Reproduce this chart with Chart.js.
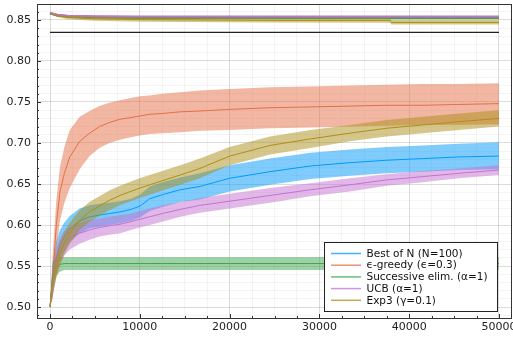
<!DOCTYPE html>
<html>
<head>
<meta charset="utf-8">
<script src="https://cdn.jsdelivr.net/npm/chart.js@4.4.0/dist/chart.umd.min.js"></script>
<style>
  body { margin: 0; background: #fff; }
</style>
</head>
<body>
<canvas id="regret" width="513" height="340"></canvas>
<script>
const steps = [0, 300, 700, 1100, 1600, 2200, 3300, 4400, 5500, 6600, 7800, 9000, 10000,
  11100, 12500, 14500, 16700, 20000, 24500, 29000, 33400, 37500, 41500, 45500, 50000];

const labels = ['Best of N (N=100)', 'ϵ-greedy (ϵ=0.3)', 'Successive elim. (α=1)', 'UCB (α=1)', 'Exp3 (γ=0.1)'];
const colors = ['#009AFA', '#E36F47', '#3EA44E', '#C371D2', '#AC8E18'];

const bestMean  = [0.50, 0.535, 0.560, 0.575, 0.585, 0.595, 0.605, 0.610, 0.612, 0.614, 0.616, 0.619, 0.623,
  0.632, 0.637, 0.643, 0.647, 0.657, 0.665, 0.672, 0.676, 0.679, 0.681, 0.683, 0.684];
const bestUpper = [0.50, 0.555, 0.580, 0.594, 0.603, 0.611, 0.620, 0.624, 0.626, 0.627, 0.629, 0.632, 0.637,
  0.647, 0.652, 0.658, 0.663, 0.673, 0.681, 0.688, 0.692, 0.695, 0.697, 0.699, 0.701];
const bestLower = [0.50, 0.515, 0.540, 0.556, 0.567, 0.579, 0.590, 0.596, 0.598, 0.600, 0.602, 0.605, 0.609,
  0.617, 0.622, 0.628, 0.631, 0.641, 0.649, 0.656, 0.660, 0.663, 0.665, 0.667, 0.668];

const greedyMean  = [0.50, 0.535, 0.600, 0.640, 0.663, 0.683, 0.702, 0.712, 0.720, 0.725, 0.729, 0.731, 0.733,
  0.735, 0.736, 0.738, 0.739, 0.741, 0.743, 0.744, 0.745, 0.746, 0.746, 0.747, 0.748];
const greedyUpper = [0.50, 0.565, 0.630, 0.670, 0.695, 0.716, 0.732, 0.739, 0.745, 0.749, 0.752, 0.755, 0.757,
  0.758, 0.760, 0.762, 0.764, 0.766, 0.768, 0.769, 0.770, 0.771, 0.772, 0.772, 0.773];
const greedyLower = [0.50, 0.510, 0.570, 0.605, 0.627, 0.645, 0.668, 0.684, 0.694, 0.700, 0.704, 0.707, 0.709,
  0.711, 0.712, 0.713, 0.715, 0.716, 0.718, 0.719, 0.720, 0.721, 0.722, 0.722, 0.723];

const elimMean  = [0.50, 0.540, 0.549, 0.552, 0.553, 0.553, 0.553, 0.553, 0.553, 0.553, 0.553, 0.553, 0.553,
  0.553, 0.553, 0.553, 0.553, 0.553, 0.553, 0.553, 0.553, 0.553, 0.553, 0.553, 0.553];
const elimUpper = [0.50, 0.555, 0.560, 0.561, 0.561, 0.561, 0.561, 0.561, 0.561, 0.561, 0.561, 0.561, 0.561,
  0.561, 0.561, 0.561, 0.561, 0.561, 0.561, 0.561, 0.561, 0.561, 0.561, 0.561, 0.561];
const elimLower = [0.50, 0.525, 0.538, 0.543, 0.545, 0.545, 0.545, 0.545, 0.545, 0.545, 0.545, 0.545, 0.545,
  0.545, 0.545, 0.545, 0.545, 0.545, 0.545, 0.545, 0.545, 0.545, 0.545, 0.545, 0.545];

const ucbMean  = [0.50, 0.530, 0.555, 0.568, 0.578, 0.584, 0.590, 0.594, 0.597, 0.599, 0.601, 0.604, 0.607,
  0.610, 0.614, 0.619, 0.624, 0.629, 0.636, 0.643, 0.649, 0.655, 0.659, 0.663, 0.667];
const ucbUpper = [0.50, 0.548, 0.572, 0.584, 0.593, 0.598, 0.603, 0.606, 0.608, 0.610, 0.612, 0.614, 0.617,
  0.620, 0.624, 0.628, 0.633, 0.638, 0.645, 0.651, 0.657, 0.662, 0.666, 0.669, 0.673];
const ucbLower = [0.50, 0.512, 0.538, 0.552, 0.563, 0.570, 0.577, 0.582, 0.586, 0.588, 0.590, 0.594, 0.597,
  0.600, 0.604, 0.610, 0.615, 0.620, 0.627, 0.635, 0.641, 0.648, 0.652, 0.657, 0.661];

const exp3Mean  = [0.50, 0.530, 0.550, 0.565, 0.578, 0.590, 0.606, 0.616, 0.623, 0.630, 0.636, 0.641, 0.645,
  0.649, 0.654, 0.661, 0.669, 0.684, 0.697, 0.705, 0.712, 0.718, 0.722, 0.726, 0.730];
const exp3Upper = [0.50, 0.545, 0.565, 0.580, 0.592, 0.603, 0.618, 0.628, 0.635, 0.642, 0.648, 0.653, 0.657,
  0.661, 0.666, 0.673, 0.681, 0.695, 0.708, 0.716, 0.722, 0.728, 0.732, 0.736, 0.740];
const exp3Lower = [0.50, 0.515, 0.535, 0.550, 0.564, 0.577, 0.594, 0.604, 0.611, 0.618, 0.624, 0.629, 0.633,
  0.637, 0.642, 0.649, 0.657, 0.673, 0.686, 0.694, 0.702, 0.708, 0.712, 0.716, 0.720];

// the short curves near the top of the plot
const topSteps   = [0, 800, 2000, 5000, 10000, 25000, 37900, 38000, 50000];
const topBest    = [0.8585, 0.8560, 0.8545, 0.8540, 0.8535, 0.8535, 0.8535, 0.8535, 0.8535];
const topGreedy  = [0.8580, 0.8560, 0.8545, 0.8535, 0.8530, 0.8530, 0.8530, 0.8530, 0.8530];
const topElim    = [0.8580, 0.8555, 0.8540, 0.8530, 0.8525, 0.8525, 0.8525, 0.8525, 0.8525];
const topUcb     = [0.8585, 0.8565, 0.8552, 0.8547, 0.8542, 0.8542, 0.8542, 0.8542, 0.8542];
const topExp3    = [0.8580, 0.8550, 0.8530, 0.8515, 0.8505, 0.8495, 0.8495, 0.8470, 0.8470];
const topExp3Up  = [0.8580, 0.8565, 0.8550, 0.8540, 0.8530, 0.8522, 0.8520, 0.8505, 0.8505];
const topExp3Low = [0.8580, 0.8535, 0.8510, 0.8490, 0.8480, 0.8468, 0.8465, 0.8445, 0.8445];

const refSteps = [0, 50000];
const refLine  = [0.835, 0.835];

const yTicks = [0.50, 0.55, 0.60, 0.65, 0.70, 0.75, 0.80, 0.85];
const xTicks = [0, 10000, 20000, 30000, 40000, 50000];

function pts(xv, yv) {
  return xv.map((x, i) => ({ x: x, y: yv[i] }));
}

function rgba(hex, a) {
  const n = parseInt(hex.slice(1), 16);
  return 'rgba(' + (n >> 16) + ',' + ((n >> 8) & 255) + ',' + (n & 255) + ',' + a + ')';
}

const datasets = [];
const series = [
  [bestMean, bestUpper, bestLower],
  [greedyMean, greedyUpper, greedyLower],
  [elimMean, elimUpper, elimLower],
  [ucbMean, ucbUpper, ucbLower],
  [exp3Mean, exp3Upper, exp3Lower]
];

function addBand(xv, mean, upper, lower, color, order, lw) {
  datasets.push({ data: pts(xv, upper), borderWidth: 0, pointRadius: 0, fill: '+1',
    backgroundColor: rgba(color, 0.5), order: order + 2 });
  datasets.push({ data: pts(xv, lower), borderWidth: 0, pointRadius: 0, fill: false, order: order + 1 });
  datasets.push({ data: pts(xv, mean), borderColor: color, borderWidth: lw, pointRadius: 0,
    fill: false, order: order });
}

// black reference line, drawn first
datasets.push({ data: pts(refSteps, refLine), borderColor: '#222', borderWidth: 1.2, pointRadius: 0,
  fill: false, order: 100 });

series.forEach((s, i) => {
  addBand(steps, s[0], s[1], s[2], colors[i], (5 - i) * 3, 1);
});

[topBest, topGreedy, topElim, topUcb].forEach((t, i) => {
  datasets.push({ data: pts(topSteps, t), borderColor: colors[i], borderWidth: 2,
    pointRadius: 0, fill: false, order: 60 - i });
});
addBand(topSteps, topExp3, topExp3Up, topExp3Low, colors[4], 40, 1);

const boxPlugin = {
  id: 'juliaFrame',
  afterDraw(chart) {
    const ctx = chart.ctx;
    const a = chart.chartArea;
    const xm = chart.scales.xm, ym = chart.scales.ym;
    ctx.save();
    // inward tick marks
    ctx.strokeStyle = '#333';
    ctx.lineWidth = 1;
    ctx.beginPath();
    xm.ticks.forEach(t => {
      const p = Math.round(xm.getPixelForValue(t.value)) + 0.5;
      const len = t.value % 10000 === 0 ? 4 : 2;
      ctx.moveTo(p, a.bottom); ctx.lineTo(p, a.bottom - len);
    });
    ym.ticks.forEach(t => {
      const p = Math.round(ym.getPixelForValue(t.value)) + 0.5;
      const major = Math.abs(Math.round(t.value * 20) - t.value * 20) < 1e-6;
      ctx.moveTo(a.left, p); ctx.lineTo(a.left + (major ? 4 : 2), p);
    });
    ctx.stroke();
    // frame
    ctx.strokeRect(Math.round(a.left) + 0.5, Math.round(a.top) + 0.5,
      Math.round(a.right - a.left) - 1, Math.round(a.bottom - a.top));

    // legend
    ctx.font = '10.5px "DejaVu Sans"';
    let w = 0;
    labels.forEach(l => { w = Math.max(w, ctx.measureText(l).width); });
    const rowH = 11.7;
    const boxW = Math.round(w + 52);
    const boxH = 69;
    const bx = Math.round(a.right - 15 - boxW) + 0.5;
    const by = Math.round(a.bottom - 7 - boxH) + 0.5;
    ctx.fillStyle = '#fff';
    ctx.fillRect(bx, by, boxW, boxH);
    ctx.strokeStyle = '#222';
    ctx.strokeRect(bx, by, boxW, boxH);
    labels.forEach((l, i) => {
      const cy = by + 11 + i * rowH;
      ctx.strokeStyle = colors[i];
      ctx.globalAlpha = 0.75;
      ctx.lineWidth = 1.5;
      ctx.beginPath();
      ctx.moveTo(bx + 6.5, cy); ctx.lineTo(bx + 36.5, cy);
      ctx.stroke();
      ctx.globalAlpha = 1;
      ctx.fillStyle = '#111';
      ctx.textBaseline = 'middle';
      ctx.fillText(l, bx + 42, cy + 0.5);
    });
    ctx.restore();
  }
};

new Chart(
  document.getElementById('regret'),
  {
    type: 'line',
    data: { datasets: datasets },
    options: {
      responsive: false,
      animation: false,
      layout: { padding: { top: 4, right: 1, left: 0, bottom: 0 } },
      plugins: { legend: { display: false }, tooltip: { enabled: false } },
      elements: { line: { tension: 0 } },
      scales: {
        x: {
          type: 'linear', min: -1450, max: 51450,
          afterBuildTicks: s => { s.ticks = xTicks.map(v => ({ value: v })); },
          afterFit: s => { s.height = 22; s.paddingLeft = 0; s.paddingRight = 0; },
          border: { display: false },
          grid: { color: 'rgba(0,0,0,0.1)', drawTicks: false },
          ticks: { padding: 3, color: '#222', font: { family: 'DejaVu Sans', size: 11 },
            maxRotation: 0, callback: v => String(v) }
        },
        xm: {
          type: 'linear', position: 'bottom', min: -1450, max: 51450,
          afterBuildTicks: s => { s.ticks = []; for (let v = 0; v <= 50000; v += 2500) s.ticks.push({ value: v }); },
          afterFit: s => { s.height = 0; s.paddingLeft = 0; s.paddingRight = 0; },
          border: { display: false },
          grid: { color: 'rgba(0,0,0,0.045)', drawTicks: false },
          ticks: { display: false }
        },
        y: {
          min: 0.4866, max: 0.8695,
          afterBuildTicks: s => { s.ticks = yTicks.map(v => ({ value: v })); },
          afterFit: s => { s.width = 37; s.paddingTop = 0; s.paddingBottom = 0; },
          border: { display: false },
          grid: { color: 'rgba(0,0,0,0.1)', drawTicks: false },
          ticks: { padding: 6, color: '#222', font: { family: 'DejaVu Sans', size: 11 },
            callback: v => v.toFixed(2) }
        },
        ym: {
          position: 'left', min: 0.4866, max: 0.8695,
          afterBuildTicks: s => { s.ticks = []; for (let k = 49; k <= 86; k++) s.ticks.push({ value: k / 100 }); },
          afterFit: s => { s.width = 0; s.paddingTop = 0; s.paddingBottom = 0; },
          border: { display: false },
          grid: { color: 'rgba(0,0,0,0.045)', drawTicks: false },
          ticks: { display: false }
        }
      }
    },
    plugins: [boxPlugin]
  }
);
</script>
</body>
</html>
